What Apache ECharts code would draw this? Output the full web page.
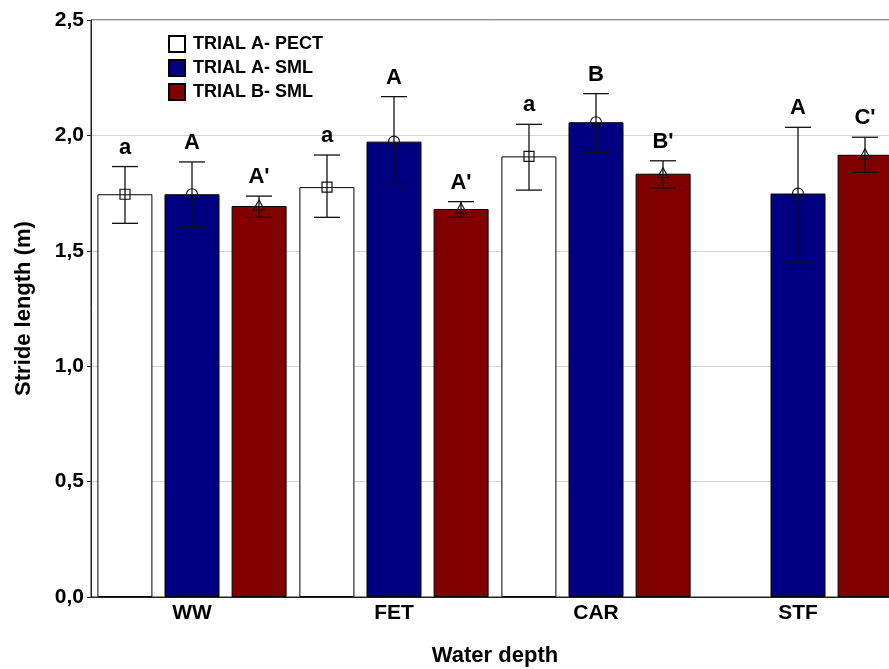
<!DOCTYPE html>
<html>
<head>
<meta charset="utf-8">
<script src="https://cdn.jsdelivr.net/npm/echarts@6/dist/echarts.min.js"></script>
<style>
html,body{margin:0;padding:0;background:#fff;}
#chart{width:889px;height:669px;}
</style>
</head>
<body>
<div id="chart"></div>
<script>
// data
var categories = ['WW', 'FET', 'CAR', 'STF'];
var yTicks = [0, 0.5, 1.0, 1.5, 2.0, 2.5];

var pectMean = [1.745, 1.776, 1.909, null];
var pectLow = [1.619, 1.645, 1.763, null];
var pectHigh = [1.865, 1.915, 2.048, null];
var pectLetter = ['a', 'a', 'a', ''];

var smlAMean = [1.745, 1.973, 2.057, 1.748];
var smlALow = [1.607, 1.784, 1.927, 1.447];
var smlAHigh = [1.885, 2.168, 2.181, 2.035];
var smlALetter = ['A', 'A', 'B', 'A'];

var smlBMean = [1.694, 1.681, 1.834, 1.916];
var smlBLow = [1.645, 1.645, 1.772, 1.840];
var smlBHigh = [1.737, 1.713, 1.890, 1.992];
var smlBLetter = ["A'", "A'", "B'", "C'"];

var FONT = "Arial, 'Liberation Sans', sans-serif";
var BAR_W = 55;
var STEP = 67; // bar width + gap, px

function comma(v){
	return v.toFixed(1).replace('.', ',');
}

function bar(name, means, color){
	return {
		name: name,
		type: 'bar',
		barWidth: BAR_W,
		barGap: '22%',
		data: means.map(function(v){ return v == null ? '-' : v; }),
		itemStyle: {color: color, borderColor: '#000', borderWidth: 1},
		emphasis: {disabled: true}
	};
}

function errs(name, means, lows, highs, letters, offset, marker){
	var data = [];
	for (var i = 0; i < means.length; i++) {
		if (means[i] != null) data.push([i, lows[i], highs[i], means[i]]);
	}
	return {
		name: name,
		type: 'custom',
		z: 5,
		silent: true,
		data: data,
		renderItem: function(params, api){
			var idx = api.value(0);
			var lo = api.coord([idx, api.value(1)]);
			var hi = api.coord([idx, api.value(2)]);
			var mid = api.coord([idx, api.value(3)]);
			var x = lo[0] + offset;
			var cap = 13;
			var ln = {stroke: '#111', lineWidth: 1.3};
			var kids = [
				{type: 'line', shape: {x1: x, y1: hi[1], x2: x, y2: lo[1]}, style: ln},
				{type: 'line', shape: {x1: x - cap, y1: hi[1], x2: x + cap, y2: hi[1]}, style: ln},
				{type: 'line', shape: {x1: x - cap, y1: lo[1], x2: x + cap, y2: lo[1]}, style: ln}
			];
			var mk = {stroke: '#111', lineWidth: 1.2, fill: null};
			if (marker == 'square') {
				kids.push({type: 'rect', shape: {x: x - 5, y: mid[1] - 5, width: 10, height: 10}, style: mk});
			} else if (marker == 'circle') {
				kids.push({type: 'circle', shape: {cx: x, cy: mid[1], r: 5.5}, style: mk});
			} else {
				kids.push({type: 'polygon', shape: {points: [[x, mid[1] - 6], [x - 5.5, mid[1] + 4], [x + 5.5, mid[1] + 4]]}, style: mk});
			}
			kids.push({
				type: 'text',
				style: {
					text: letters[idx], x: x, y: hi[1] - 19,
					align: 'center', verticalAlign: 'middle',
					fill: '#000', font: 'bold 22px ' + FONT
				}
			});
			return {type: 'group', children: kids};
		}
	};
}

var chart = echarts.init(document.getElementById('chart'));
var option = {
	animation: false,
	backgroundColor: '#fff',
	grid: {
		left: 91, top: 20, width: 808, height: 577,
		show: true, borderColor: '#222', borderWidth: 1,
		outerBoundsMode: 'none'
	},
	legend: {
		data: ['TRIAL A- PECT', 'TRIAL A- SML', 'TRIAL B- SML'],
		orient: 'vertical',
		left: 163, top: 30,
		itemWidth: 16, itemHeight: 16, itemGap: 6,
		icon: 'rect',
		selectedMode: false,
		textStyle: {color: '#000', fontWeight: 'bold', fontSize: 18, fontFamily: FONT, padding: [0, 0, 0, 3]}
	},
	xAxis: {
		type: 'category',
		data: categories,
		name: 'Water depth',
		nameLocation: 'middle',
		nameGap: 48,
		nameTextStyle: {color: '#000', fontWeight: 'bold', fontSize: 22, fontFamily: FONT},
		axisLine: {lineStyle: {color: '#222', width: 1}},
		axisTick: {show: false},
		axisLabel: {color: '#000', fontWeight: 'bold', fontSize: 21, fontFamily: FONT, margin: 6}
	},
	yAxis: {
		type: 'value',
		min: yTicks[0], max: yTicks[yTicks.length - 1], interval: 0.5,
		name: 'Stride length (m)',
		nameLocation: 'middle',
		nameGap: 56,
		nameTextStyle: {color: '#000', fontWeight: 'bold', fontSize: 22, fontFamily: FONT},
		axisLine: {show: true, lineStyle: {color: '#222', width: 1}},
		axisTick: {show: true, length: 4, lineStyle: {color: '#222'}},
		axisLabel: {color: '#000', fontWeight: 'bold', fontSize: 21, fontFamily: FONT, margin: 7, formatter: comma},
		splitLine: {lineStyle: {color: '#d4d4d4', width: 1}}
	},
	series: [
		bar('TRIAL A- PECT', pectMean, '#ffffff'),
		bar('TRIAL A- SML', smlAMean, '#000080'),
		bar('TRIAL B- SML', smlBMean, '#800000'),
		errs('err-pect', pectMean, pectLow, pectHigh, pectLetter, -STEP, 'square'),
		errs('err-smlA', smlAMean, smlALow, smlAHigh, smlALetter, 0, 'circle'),
		errs('err-smlB', smlBMean, smlBLow, smlBHigh, smlBLetter, STEP, 'triangle')
	]
};
chart.setOption(option);
</script>
</body>
</html>
